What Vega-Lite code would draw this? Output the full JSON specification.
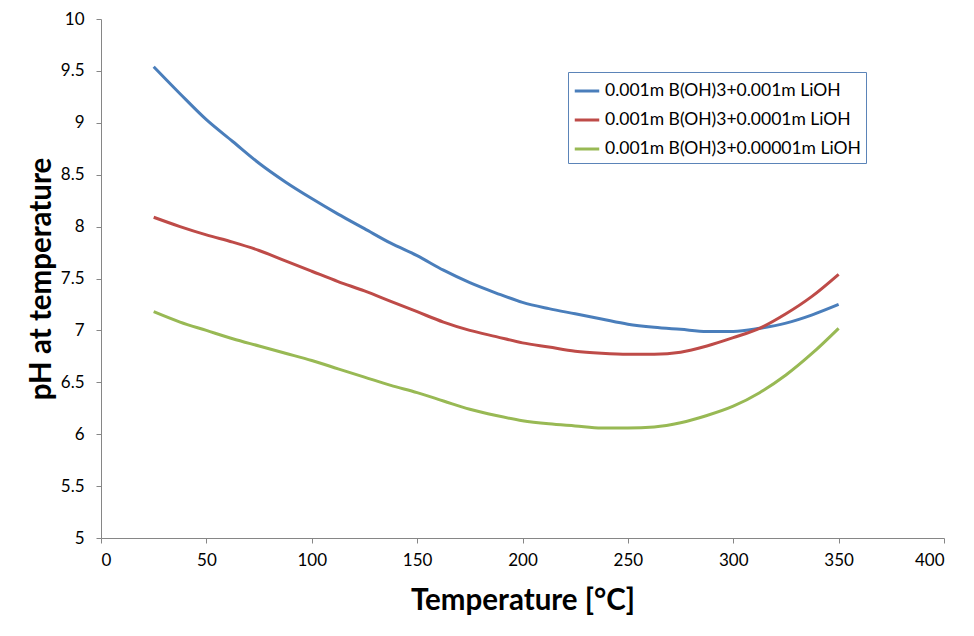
{
  "$schema": "https://vega.github.io/schema/vega-lite/v6.json",
  "width": 843,
  "height": 519,
  "autosize": {"type": "none"},
  "padding": {"left": 101, "top": 19, "right": 30, "bottom": 98},
  "background": "white",
  "config": {
    "view": {"stroke": null},
    "font": "Lato",
    "axis": {
      "domainColor": "#868686",
      "tickColor": "#868686",
      "tickSize": 5,
      "grid": false,
      "labelColor": "#000000",
      "labelFont": "Lato",
      "labelFontSize": 17,
      "titleFont": "Lato",
      "titleFontSize": 29.5,
      "titleFontWeight": "bold",
      "titleColor": "#000000"
    }
  },
  "datasets": {
    "ph": [
      {"T": 25, "pH": 9.54, "series": "0.001m B(OH)3+0.001m LiOH"},
      {"T": 37.5, "pH": 9.28, "series": "0.001m B(OH)3+0.001m LiOH"},
      {"T": 50, "pH": 9.03, "series": "0.001m B(OH)3+0.001m LiOH"},
      {"T": 62.5, "pH": 8.82, "series": "0.001m B(OH)3+0.001m LiOH"},
      {"T": 75, "pH": 8.61, "series": "0.001m B(OH)3+0.001m LiOH"},
      {"T": 87.5, "pH": 8.43, "series": "0.001m B(OH)3+0.001m LiOH"},
      {"T": 100, "pH": 8.27, "series": "0.001m B(OH)3+0.001m LiOH"},
      {"T": 112.5, "pH": 8.12, "series": "0.001m B(OH)3+0.001m LiOH"},
      {"T": 125, "pH": 7.98, "series": "0.001m B(OH)3+0.001m LiOH"},
      {"T": 137.5, "pH": 7.84, "series": "0.001m B(OH)3+0.001m LiOH"},
      {"T": 150, "pH": 7.72, "series": "0.001m B(OH)3+0.001m LiOH"},
      {"T": 162.5, "pH": 7.58, "series": "0.001m B(OH)3+0.001m LiOH"},
      {"T": 175, "pH": 7.46, "series": "0.001m B(OH)3+0.001m LiOH"},
      {"T": 187.5, "pH": 7.36, "series": "0.001m B(OH)3+0.001m LiOH"},
      {"T": 200, "pH": 7.27, "series": "0.001m B(OH)3+0.001m LiOH"},
      {"T": 212.5, "pH": 7.21, "series": "0.001m B(OH)3+0.001m LiOH"},
      {"T": 225, "pH": 7.16, "series": "0.001m B(OH)3+0.001m LiOH"},
      {"T": 237.5, "pH": 7.11, "series": "0.001m B(OH)3+0.001m LiOH"},
      {"T": 250, "pH": 7.06, "series": "0.001m B(OH)3+0.001m LiOH"},
      {"T": 262.5, "pH": 7.03, "series": "0.001m B(OH)3+0.001m LiOH"},
      {"T": 275, "pH": 7.01, "series": "0.001m B(OH)3+0.001m LiOH"},
      {"T": 287.5, "pH": 6.99, "series": "0.001m B(OH)3+0.001m LiOH"},
      {"T": 300, "pH": 6.99, "series": "0.001m B(OH)3+0.001m LiOH"},
      {"T": 312.5, "pH": 7.02, "series": "0.001m B(OH)3+0.001m LiOH"},
      {"T": 325, "pH": 7.07, "series": "0.001m B(OH)3+0.001m LiOH"},
      {"T": 337.5, "pH": 7.15, "series": "0.001m B(OH)3+0.001m LiOH"},
      {"T": 350, "pH": 7.25, "series": "0.001m B(OH)3+0.001m LiOH"},
      {"T": 25, "pH": 8.09, "series": "0.001m B(OH)3+0.0001m LiOH"},
      {"T": 37.5, "pH": 8.0, "series": "0.001m B(OH)3+0.0001m LiOH"},
      {"T": 50, "pH": 7.92, "series": "0.001m B(OH)3+0.0001m LiOH"},
      {"T": 62.5, "pH": 7.85, "series": "0.001m B(OH)3+0.0001m LiOH"},
      {"T": 75, "pH": 7.77, "series": "0.001m B(OH)3+0.0001m LiOH"},
      {"T": 87.5, "pH": 7.67, "series": "0.001m B(OH)3+0.0001m LiOH"},
      {"T": 100, "pH": 7.57, "series": "0.001m B(OH)3+0.0001m LiOH"},
      {"T": 112.5, "pH": 7.47, "series": "0.001m B(OH)3+0.0001m LiOH"},
      {"T": 125, "pH": 7.38, "series": "0.001m B(OH)3+0.0001m LiOH"},
      {"T": 137.5, "pH": 7.28, "series": "0.001m B(OH)3+0.0001m LiOH"},
      {"T": 150, "pH": 7.18, "series": "0.001m B(OH)3+0.0001m LiOH"},
      {"T": 162.5, "pH": 7.08, "series": "0.001m B(OH)3+0.0001m LiOH"},
      {"T": 175, "pH": 7.0, "series": "0.001m B(OH)3+0.0001m LiOH"},
      {"T": 187.5, "pH": 6.94, "series": "0.001m B(OH)3+0.0001m LiOH"},
      {"T": 200, "pH": 6.88, "series": "0.001m B(OH)3+0.0001m LiOH"},
      {"T": 212.5, "pH": 6.84, "series": "0.001m B(OH)3+0.0001m LiOH"},
      {"T": 225, "pH": 6.8, "series": "0.001m B(OH)3+0.0001m LiOH"},
      {"T": 237.5, "pH": 6.78, "series": "0.001m B(OH)3+0.0001m LiOH"},
      {"T": 250, "pH": 6.77, "series": "0.001m B(OH)3+0.0001m LiOH"},
      {"T": 262.5, "pH": 6.77, "series": "0.001m B(OH)3+0.0001m LiOH"},
      {"T": 275, "pH": 6.79, "series": "0.001m B(OH)3+0.0001m LiOH"},
      {"T": 287.5, "pH": 6.85, "series": "0.001m B(OH)3+0.0001m LiOH"},
      {"T": 300, "pH": 6.93, "series": "0.001m B(OH)3+0.0001m LiOH"},
      {"T": 312.5, "pH": 7.02, "series": "0.001m B(OH)3+0.0001m LiOH"},
      {"T": 325, "pH": 7.16, "series": "0.001m B(OH)3+0.0001m LiOH"},
      {"T": 337.5, "pH": 7.33, "series": "0.001m B(OH)3+0.0001m LiOH"},
      {"T": 350, "pH": 7.54, "series": "0.001m B(OH)3+0.0001m LiOH"},
      {"T": 25, "pH": 7.18, "series": "0.001m B(OH)3+0.00001m LiOH"},
      {"T": 37.5, "pH": 7.08, "series": "0.001m B(OH)3+0.00001m LiOH"},
      {"T": 50, "pH": 7.0, "series": "0.001m B(OH)3+0.00001m LiOH"},
      {"T": 62.5, "pH": 6.92, "series": "0.001m B(OH)3+0.00001m LiOH"},
      {"T": 75, "pH": 6.85, "series": "0.001m B(OH)3+0.00001m LiOH"},
      {"T": 87.5, "pH": 6.78, "series": "0.001m B(OH)3+0.00001m LiOH"},
      {"T": 100, "pH": 6.71, "series": "0.001m B(OH)3+0.00001m LiOH"},
      {"T": 112.5, "pH": 6.63, "series": "0.001m B(OH)3+0.00001m LiOH"},
      {"T": 125, "pH": 6.55, "series": "0.001m B(OH)3+0.00001m LiOH"},
      {"T": 137.5, "pH": 6.47, "series": "0.001m B(OH)3+0.00001m LiOH"},
      {"T": 150, "pH": 6.4, "series": "0.001m B(OH)3+0.00001m LiOH"},
      {"T": 162.5, "pH": 6.32, "series": "0.001m B(OH)3+0.00001m LiOH"},
      {"T": 175, "pH": 6.24, "series": "0.001m B(OH)3+0.00001m LiOH"},
      {"T": 187.5, "pH": 6.18, "series": "0.001m B(OH)3+0.00001m LiOH"},
      {"T": 200, "pH": 6.13, "series": "0.001m B(OH)3+0.00001m LiOH"},
      {"T": 212.5, "pH": 6.1, "series": "0.001m B(OH)3+0.00001m LiOH"},
      {"T": 225, "pH": 6.08, "series": "0.001m B(OH)3+0.00001m LiOH"},
      {"T": 237.5, "pH": 6.06, "series": "0.001m B(OH)3+0.00001m LiOH"},
      {"T": 250, "pH": 6.06, "series": "0.001m B(OH)3+0.00001m LiOH"},
      {"T": 262.5, "pH": 6.07, "series": "0.001m B(OH)3+0.00001m LiOH"},
      {"T": 275, "pH": 6.11, "series": "0.001m B(OH)3+0.00001m LiOH"},
      {"T": 287.5, "pH": 6.18, "series": "0.001m B(OH)3+0.00001m LiOH"},
      {"T": 300, "pH": 6.27, "series": "0.001m B(OH)3+0.00001m LiOH"},
      {"T": 312.5, "pH": 6.4, "series": "0.001m B(OH)3+0.00001m LiOH"},
      {"T": 325, "pH": 6.57, "series": "0.001m B(OH)3+0.00001m LiOH"},
      {"T": 337.5, "pH": 6.78, "series": "0.001m B(OH)3+0.00001m LiOH"},
      {"T": 350, "pH": 7.02, "series": "0.001m B(OH)3+0.00001m LiOH"}
    ]
  },
  "data": {"name": "ph"},
  "mark": {"type": "line", "strokeWidth": 3, "interpolate": "monotone"},
  "encoding": {
    "x": {
      "field": "T",
      "type": "quantitative",
      "scale": {"domain": [0, 400], "nice": false},
      "axis": {
        "values": [0, 50, 100, 150, 200, 250, 300, 350, 400],
        "format": "d",
        "labelPadding": 9,
        "title": "Temperature [°C]",
        "titleX": 421.5,
        "titleY": 62,
        "titleAlign": "center",
        "titleBaseline": "middle"
      }
    },
    "y": {
      "field": "pH",
      "type": "quantitative",
      "scale": {"domain": [5, 10], "nice": false, "zero": false},
      "axis": {
        "values": [5, 5.5, 6, 6.5, 7, 7.5, 8, 8.5, 9, 9.5, 10],
        "format": "~r",
        "labelPadding": 12,
        "title": "pH at temperature",
        "titleX": -60,
        "titleY": 259.5,
        "titleAngle": 270,
        "titleAlign": "center",
        "titleBaseline": "middle"
      }
    },
    "color": {
      "field": "series",
      "type": "nominal",
      "sort": ["0.001m B(OH)3+0.001m LiOH", "0.001m B(OH)3+0.0001m LiOH", "0.001m B(OH)3+0.00001m LiOH"],
      "scale": {
        "domain": ["0.001m B(OH)3+0.001m LiOH", "0.001m B(OH)3+0.0001m LiOH", "0.001m B(OH)3+0.00001m LiOH"],
        "range": ["#4A7EBB", "#BE4B48", "#98B954"]
      },
      "legend": {
        "title": null,
        "orient": "none",
        "legendX": 467,
        "legendY": 53,
        "symbolType": "stroke",
        "symbolStrokeWidth": 3,
        "symbolSize": 600,
        "labelFont": "Lato",
        "labelFontSize": 17.5,
        "labelColor": "#000000",
        "labelOffset": 4,
        "labelLimit": 400,
        "rowPadding": 6,
        "padding": 5,
        "strokeColor": "#5B84B8",
        "fillColor": "white"
      }
    }
  }
}
